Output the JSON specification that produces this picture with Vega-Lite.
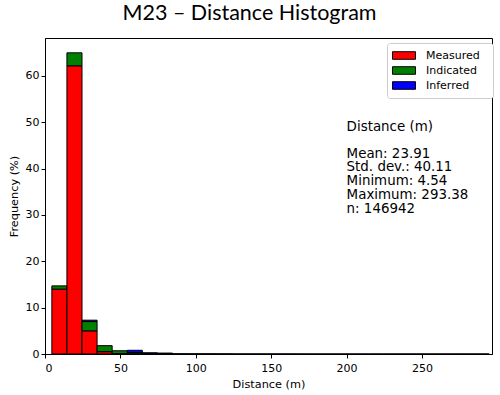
{
  "$schema": "https://vega.github.io/schema/vega-lite/v6.json",
  "width": 447,
  "height": 316,
  "autosize": "none",
  "padding": {"left": 45, "top": 38, "right": 8, "bottom": 41},
  "background": "white",
  "title": {"text": "M23 – Distance Histogram", "font": "Lato", "fontSize": 21.5, "fontWeight": "normal", "color": "black", "anchor": "middle", "frame": "group", "dx": -19, "offset": 14},
  "config": {
    "view": {"stroke": "black", "strokeWidth": 1},
    "axis": {"labelFont": "DejaVu Sans", "titleFont": "DejaVu Sans", "labelFontSize": 11, "titleFontSize": 11.3, "titleFontWeight": "normal", "labelColor": "black", "titleColor": "black", "domainColor": "black", "tickColor": "black", "tickSize": 4, "grid": false}
  },
  "layer": [
    {
      "data": {"values": [
        {"x0": 4.54, "x1": 14.54, "cls": "Measured", "pct": 14.0},
        {"x0": 4.54, "x1": 14.54, "cls": "Indicated", "pct": 0.7},
        {"x0": 14.54, "x1": 24.54, "cls": "Measured", "pct": 62.2},
        {"x0": 14.54, "x1": 24.54, "cls": "Indicated", "pct": 2.8},
        {"x0": 24.54, "x1": 34.54, "cls": "Measured", "pct": 5.0},
        {"x0": 24.54, "x1": 34.54, "cls": "Indicated", "pct": 2.0},
        {"x0": 24.54, "x1": 34.54, "cls": "Inferred", "pct": 0.3},
        {"x0": 34.54, "x1": 44.54, "cls": "Measured", "pct": 0.5},
        {"x0": 34.54, "x1": 44.54, "cls": "Indicated", "pct": 1.3},
        {"x0": 44.54, "x1": 54.54, "cls": "Measured", "pct": 0.1},
        {"x0": 44.54, "x1": 54.54, "cls": "Indicated", "pct": 0.6},
        {"x0": 54.54, "x1": 64.54, "cls": "Measured", "pct": 0.05},
        {"x0": 54.54, "x1": 64.54, "cls": "Indicated", "pct": 0.25},
        {"x0": 54.54, "x1": 64.54, "cls": "Inferred", "pct": 0.5},
        {"x0": 64.54, "x1": 74.54, "cls": "Indicated", "pct": 0.15},
        {"x0": 64.54, "x1": 74.54, "cls": "Inferred", "pct": 0.1},
        {"x0": 74.54, "x1": 84.54, "cls": "Indicated", "pct": 0.1},
        {"x0": 74.54, "x1": 84.54, "cls": "Inferred", "pct": 0.1},
        {"x0": 84.54, "x1": 94.54, "cls": "Inferred", "pct": 0.06},
        {"x0": 94.54, "x1": 104.54, "cls": "Inferred", "pct": 0.05},
        {"x0": 104.54, "x1": 114.54, "cls": "Inferred", "pct": 0.05},
        {"x0": 114.54, "x1": 124.54, "cls": "Inferred", "pct": 0.04},
        {"x0": 124.54, "x1": 134.54, "cls": "Inferred", "pct": 0.02},
        {"x0": 134.54, "x1": 144.54, "cls": "Inferred", "pct": 0.02},
        {"x0": 144.54, "x1": 154.54, "cls": "Inferred", "pct": 0.02},
        {"x0": 154.54, "x1": 164.54, "cls": "Inferred", "pct": 0.02},
        {"x0": 164.54, "x1": 174.54, "cls": "Inferred", "pct": 0.02},
        {"x0": 174.54, "x1": 184.54, "cls": "Inferred", "pct": 0.01},
        {"x0": 184.54, "x1": 194.54, "cls": "Inferred", "pct": 0.01},
        {"x0": 194.54, "x1": 204.54, "cls": "Inferred", "pct": 0.01},
        {"x0": 204.54, "x1": 214.54, "cls": "Inferred", "pct": 0.01},
        {"x0": 214.54, "x1": 224.54, "cls": "Inferred", "pct": 0.01},
        {"x0": 224.54, "x1": 234.54, "cls": "Inferred", "pct": 0.01},
        {"x0": 234.54, "x1": 244.54, "cls": "Inferred", "pct": 0.01},
        {"x0": 244.54, "x1": 254.54, "cls": "Inferred", "pct": 0.01},
        {"x0": 254.54, "x1": 264.54, "cls": "Inferred", "pct": 0.01},
        {"x0": 264.54, "x1": 274.54, "cls": "Inferred", "pct": 0.01},
        {"x0": 274.54, "x1": 284.54, "cls": "Inferred", "pct": 0.01},
        {"x0": 284.54, "x1": 294.54, "cls": "Inferred", "pct": 0.01}
      ]},
      "transform": [
        {"calculate": "indexof(['Measured','Indicated','Inferred'], datum.cls)", "as": "k"},
        {"stack": "pct", "groupby": ["x0"], "sort": [{"field": "k", "order": "ascending"}], "as": ["ya", "yb"]}
      ],
      "mark": {"type": "rect", "stroke": "black", "strokeWidth": 1, "opacity": 1},
      "encoding": {
        "x": {"field": "x0", "type": "quantitative", "scale": {"domain": [0, 296.4], "nice": false, "zero": false}, "axis": {"title": "Distance (m)", "values": [0, 50, 100, 150, 200, 250], "labelPadding": 4, "titlePadding": 5}},
        "x2": {"field": "x1"},
        "y": {"field": "ya", "type": "quantitative", "scale": {"domain": [0, 68.2], "nice": false}, "axis": {"title": "Frequency (%)", "values": [0, 10, 20, 30, 40, 50, 60], "titlePadding": 6}},
        "y2": {"field": "yb"},
        "color": {"field": "cls", "type": "nominal", "sort": ["Measured", "Indicated", "Inferred"],
          "scale": {"domain": ["Measured", "Indicated", "Inferred"], "range": ["#ff0000", "#008000", "#0000ff"]},
          "legend": {"title": "ii", "titleOrient": "right", "titleOpacity": 0, "titleFontSize": 11, "titlePadding": 1,
            "orient": "none", "legendX": 342, "legendY": 5, "padding": 5, "strokeColor": "#cccccc", "fillColor": "white", "cornerRadius": 3,
            "symbolType": "M-1,-0.33H1V0.33H-1Z", "symbolSize": 529, "clipHeight": 15, "symbolStrokeColor": "black", "symbolStrokeWidth": 1, "symbolOpacity": 1,
            "labelFont": "DejaVu Sans", "labelFontSize": 11, "labelColor": "black", "labelOffset": 10, "rowPadding": 0}}
      }
    },
    {
      "data": {"values": [{"label": "Distance (m)"}]},
      "mark": {"type": "text", "align": "left", "baseline": "alphabetic", "font": "DejaVu Sans", "fontSize": 13.4, "color": "black"},
      "encoding": {
        "x": {"datum": 200},
        "y": {"datum": 48.2},
        "text": {"field": "label"}
      }
    },
    {
      "data": {"values": [{"label": "Mean: 23.91\nStd. dev.: 40.11\nMinimum: 4.54\nMaximum: 293.38\nn: 146942"}]},
      "mark": {"type": "text", "align": "left", "baseline": "alphabetic", "font": "DejaVu Sans", "fontSize": 13.4, "lineHeight": 13.9, "lineBreak": "\n", "color": "black"},
      "encoding": {
        "x": {"datum": 200},
        "y": {"datum": 42.4},
        "text": {"field": "label"}
      }
    }
  ]
}
